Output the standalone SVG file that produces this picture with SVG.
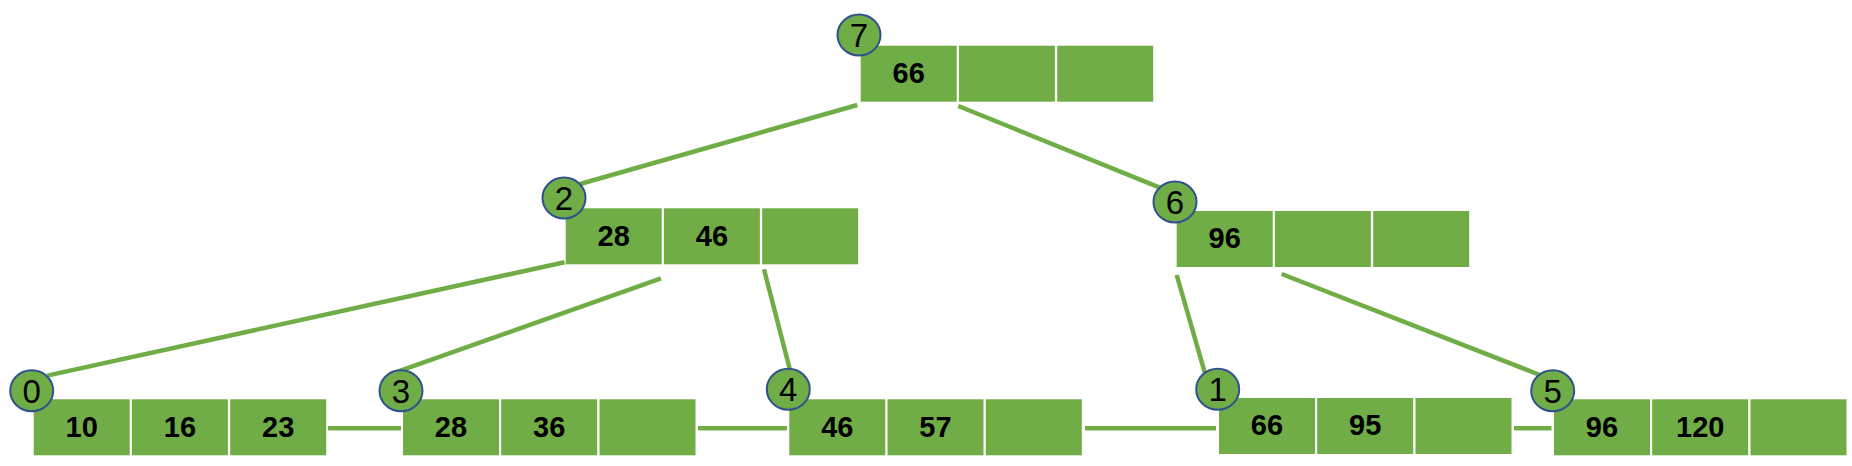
<svg xmlns="http://www.w3.org/2000/svg" width="1852" height="466" viewBox="0 0 1852 466">
<style>
.cell{fill:#70AD47}
.val{font-family:"Liberation Sans",Arial,sans-serif;font-weight:bold;font-size:29px;fill:#000;text-anchor:middle}
.badge{fill:#70AD47;stroke:#2F528F;stroke-width:2}
.num{font-family:"Liberation Sans",Arial,sans-serif;font-size:33px;fill:#000;text-anchor:middle}
.edge{stroke:#70AD47;stroke-width:4.5;fill:none}
</style>
<rect width="1852" height="466" fill="#fff"/>
<g id="connectors">
<line class="edge" x1="857.3" y1="105" x2="580" y2="184"/>
<line class="edge" x1="958.3" y1="106" x2="1161.7" y2="188.3"/>
<line class="edge" x1="564.6" y1="262.2" x2="47.2" y2="375.6"/>
<line class="edge" x1="661" y1="278.3" x2="389.8" y2="374.4"/>
<line class="edge" x1="764" y1="269.3" x2="790" y2="370"/>
<line class="edge" x1="1176.7" y1="275" x2="1205" y2="373.3"/>
<line class="edge" x1="1281.7" y1="274" x2="1540" y2="375"/>
<line class="edge" x1="328" y1="428.3" x2="401" y2="428.3"/>
<line class="edge" x1="698" y1="428.3" x2="787" y2="428.3"/>
<line class="edge" x1="1085" y1="428.3" x2="1216" y2="428.3"/>
<line class="edge" x1="1514" y1="428.3" x2="1551.5" y2="428.3"/>
</g>
<g id="node7">
<rect class="cell" x="860.7" y="45.7" width="96" height="56"/>
<rect class="cell" x="958.9" y="45.7" width="96" height="56"/>
<rect class="cell" x="1057.2" y="45.7" width="96" height="56"/>
<text class="val" x="908.7" y="83">66</text>
<ellipse class="badge" cx="859" cy="35" rx="21.5" ry="20.5"/>
<text class="num" x="859" y="47">7</text>
</g>
<g id="node2">
<rect class="cell" x="565.7" y="208.3" width="96" height="56"/>
<rect class="cell" x="663.9" y="208.3" width="96" height="56"/>
<rect class="cell" x="762.2" y="208.3" width="96" height="56"/>
<text class="val" x="613.7" y="245.6">28</text>
<text class="val" x="711.9" y="245.6">46</text>
<ellipse class="badge" cx="564" cy="198" rx="21.5" ry="20.5"/>
<text class="num" x="564" y="210">2</text>
</g>
<g id="node6">
<rect class="cell" x="1176.7" y="211" width="96" height="56"/>
<rect class="cell" x="1274.9" y="211" width="96" height="56"/>
<rect class="cell" x="1373.2" y="211" width="96" height="56"/>
<text class="val" x="1224.7" y="248.3">96</text>
<ellipse class="badge" cx="1175" cy="202" rx="21.5" ry="20.5"/>
<text class="num" x="1175" y="214">6</text>
</g>
<g id="node0">
<rect class="cell" x="33.7" y="399.3" width="96" height="56"/>
<rect class="cell" x="131.9" y="399.3" width="96" height="56"/>
<rect class="cell" x="230.2" y="399.3" width="96" height="56"/>
<text class="val" x="81.7" y="436.6">10</text>
<text class="val" x="179.9" y="436.6">16</text>
<text class="val" x="278.2" y="436.6">23</text>
<ellipse class="badge" cx="31.7" cy="390.7" rx="21.5" ry="20.5"/>
<text class="num" x="31.7" y="402.7">0</text>
</g>
<g id="node3">
<rect class="cell" x="403" y="399.3" width="96" height="56"/>
<rect class="cell" x="501.2" y="399.3" width="96" height="56"/>
<rect class="cell" x="599.5" y="399.3" width="96" height="56"/>
<text class="val" x="451" y="436.6">28</text>
<text class="val" x="549.2" y="436.6">36</text>
<ellipse class="badge" cx="401" cy="390.7" rx="21.5" ry="20.5"/>
<text class="num" x="401" y="402.7">3</text>
</g>
<g id="node4">
<rect class="cell" x="789.3" y="399.3" width="96" height="56"/>
<rect class="cell" x="887.5" y="399.3" width="96" height="56"/>
<rect class="cell" x="985.8" y="399.3" width="96" height="56"/>
<text class="val" x="837.3" y="436.6">46</text>
<text class="val" x="935.5" y="436.6">57</text>
<ellipse class="badge" cx="788.3" cy="389.3" rx="21.5" ry="20.5"/>
<text class="num" x="788.3" y="401.3">4</text>
</g>
<g id="node1">
<rect class="cell" x="1219" y="398" width="96" height="56"/>
<rect class="cell" x="1317.2" y="398" width="96" height="56"/>
<rect class="cell" x="1415.5" y="398" width="96" height="56"/>
<text class="val" x="1267" y="435.3">66</text>
<text class="val" x="1365.2" y="435.3">95</text>
<ellipse class="badge" cx="1217.7" cy="389.3" rx="21.5" ry="20.5"/>
<text class="num" x="1217.7" y="401.3">1</text>
</g>
<g id="node5">
<rect class="cell" x="1554" y="399.3" width="96" height="56"/>
<rect class="cell" x="1652.2" y="399.3" width="96" height="56"/>
<rect class="cell" x="1750.5" y="399.3" width="96" height="56"/>
<text class="val" x="1602" y="436.6">96</text>
<text class="val" x="1700.2" y="436.6">120</text>
<ellipse class="badge" cx="1552.7" cy="390.7" rx="21.5" ry="20.5"/>
<text class="num" x="1552.7" y="402.7">5</text>
</g>
</svg>
